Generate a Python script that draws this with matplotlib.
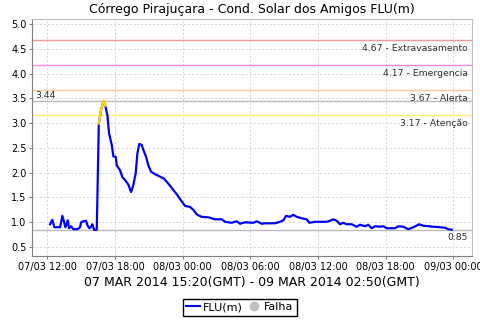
#! /usr/bin/env python
"""
Nivel do Corrego Pirajucara - FLU(m)
"""

import datetime

import matplotlib
matplotlib.use('Agg')

import matplotlib.pyplot as plt
import matplotlib.dates as mdates
from matplotlib.lines import Line2D

# hours counted from 07 MAR 2014 00:00 (GMT)
HOURS = [12.24, 12.44, 12.62, 13.13, 13.33, 13.60, 13.81, 13.92, 14.10, 14.30,
         14.66, 14.90, 14.99, 15.19, 15.43, 15.55, 15.72, 15.87, 15.99, 16.14,
         16.38, 16.56, 16.76, 16.96, 17.14, 17.32, 17.47, 17.71, 17.85, 18.06,
         18.15, 18.44, 18.65, 18.89, 19.18, 19.42, 19.62, 19.83, 19.98, 20.15,
         20.37, 20.46, 20.75, 20.95, 21.19, 21.55, 21.99, 22.34, 22.72, 23.17,
         23.52, 23.82, 24.20, 24.65, 24.94, 25.24, 25.47, 25.68, 26.27, 26.86,
         27.46, 27.75, 28.34, 28.79, 29.08, 29.52, 30.26, 30.56, 31.00, 31.29,
         31.74, 32.18, 32.62, 32.92, 33.16, 33.51, 33.80, 34.10, 34.55, 34.99,
         35.22, 35.73, 36.76, 37.05, 37.35, 37.65, 37.94, 38.23, 38.53, 38.98,
         39.42, 39.71, 40.16, 40.45, 40.75, 41.04, 41.48, 41.78, 42.08, 42.81,
         43.11, 43.55, 43.99, 44.44, 44.97, 45.32, 45.79, 46.21, 46.81, 47.25,
         47.54, 47.84]
FLU = [0.96, 1.05, 0.90, 0.90, 1.13, 0.90, 1.04, 0.88, 0.92, 0.86,
       0.86, 0.90, 1.00, 1.02, 1.03, 0.94, 0.88, 0.91, 0.96, 0.85,
       0.85, 2.99, 3.26, 3.44, 3.35, 3.16, 2.79, 2.56, 2.33, 2.32,
       2.15, 2.05, 1.91, 1.85, 1.76, 1.61, 1.75, 1.99, 2.39, 2.58,
       2.56, 2.49, 2.32, 2.15, 2.02, 1.97, 1.92, 1.88, 1.78, 1.65,
       1.55, 1.45, 1.33, 1.31, 1.25, 1.16, 1.13, 1.11, 1.10, 1.06,
       1.06, 1.01, 0.99, 1.02, 0.97, 1.00, 0.99, 1.02, 0.97, 0.98,
       0.98, 0.98, 1.01, 1.04, 1.13, 1.11, 1.15, 1.11, 1.08, 1.06,
       0.99, 1.01, 1.01, 1.03, 1.06, 1.03, 0.96, 0.99, 0.96, 0.96,
       0.91, 0.95, 0.92, 0.95, 0.88, 0.92, 0.91, 0.92, 0.88, 0.88,
       0.92, 0.91, 0.86, 0.90, 0.96, 0.93, 0.92, 0.91, 0.90, 0.89,
       0.86, 0.85]

# alert levels
LEVELS = [4.67, 4.17, 3.67, 3.17]
LEVEL_NAMES = ['Extravasamento', 'Emergencia', 'Alerta', 'Atenção']
LEVEL_COLORS = ['#F09A9A', '#FF88FF', '#FFC898', '#FFEE70']
ATENCAO = 3.17

TITLE = 'Córrego Pirajuçara - Cond. Solar dos Amigos FLU(m)'
PERIOD = '07 MAR 2014 15:20(GMT) - 09 MAR 2014 02:50(GMT)'
X_RANGE = (10.64, 49.64)
Y_RANGE = (0.32, 5.1)

START = datetime.datetime(2014, 3, 7)


def hours2date(h):
    return START + datetime.timedelta(hours=h)


times = [hours2date(h) for h in HOURS]

fig = plt.figure(figsize=(4.8, 3.2), dpi=100)
ax = fig.add_axes([0.0667, 0.2, 0.9166, 0.7406])

# level lines and labels
for level, label, color in zip(LEVELS, LEVEL_NAMES, LEVEL_COLORS):
    ax.axhline(level, color=color, lw=1.0, zorder=2)
    ax.annotate('%.2f - %s' % (level, label), xy=(1, level), xycoords=('axes fraction', 'data'),
                xytext=(-3, -3), textcoords='offset points', ha='right', va='top',
                fontsize=6.7, color='#333333')

# max / min markers
vmax, vmin = max(FLU), min(FLU)
ax.axhline(vmax, color='#BBBBBB', lw=1.0, zorder=2)
ax.axhline(vmin, color='#BBBBBB', lw=1.0, zorder=2)
ax.annotate('%.2f' % vmax, xy=(0, vmax), xycoords=('axes fraction', 'data'),
            xytext=(2, 1), textcoords='offset points', ha='left', va='bottom',
            fontsize=6.7, color='#333333')
ax.annotate('%.2f' % vmin, xy=(1, vmin), xycoords=('axes fraction', 'data'),
            xytext=(-3, -2), textcoords='offset points', ha='right', va='top',
            fontsize=6.7, color='#333333')

# the series, yellow where it goes above the attention level
ax.plot(times, FLU, color='#0000FF', lw=1.6, zorder=3)
for i in range(len(FLU) - 1):
    if FLU[i + 1] > ATENCAO:
        ax.plot(times[i:i + 2], FLU[i:i + 2], color='#FFD700', lw=1.6, zorder=4)

ax.set_xlim(hours2date(X_RANGE[0]), hours2date(X_RANGE[1]))
ax.set_ylim(*Y_RANGE)
ax.set_yticks([0.5 * k for k in range(1, 11)])
ax.yaxis.set_major_formatter(matplotlib.ticker.FormatStrFormatter('%.1f'))
ax.xaxis.set_major_locator(mdates.HourLocator(byhour=[0, 6, 12, 18]))
ax.xaxis.set_major_formatter(mdates.DateFormatter('%d/%m %H:%M'))
ax.tick_params(labelsize=7, length=2, color='#808080', pad=2)
ax.grid(True, color='#D4D4D4', ls=(0, (2, 2)), lw=0.7)
ax.set_axisbelow(True)

for side in ['top', 'right']:
    ax.spines[side].set_color('#C0C0C0')
for side in ['left', 'bottom']:
    ax.spines[side].set_color('#808080')

ax.set_title(TITLE, fontsize=9, pad=4)
ax.set_xlabel(PERIOD, fontsize=9, labelpad=3)

handles = [Line2D([], [], color='#0000FF', lw=1.5),
           Line2D([], [], color='#C0C0C0', marker='o', ls='', markersize=6)]
fig.legend(handles, ['FLU(m)', 'Falha'], loc='center', bbox_to_anchor=(0.5, 0.04),
           ncol=2, fontsize=8, fancybox=False, edgecolor='black', framealpha=1,
           handlelength=1.2, handletextpad=0.3, columnspacing=0.4, borderpad=0.3)

fig.savefig('out.png')
